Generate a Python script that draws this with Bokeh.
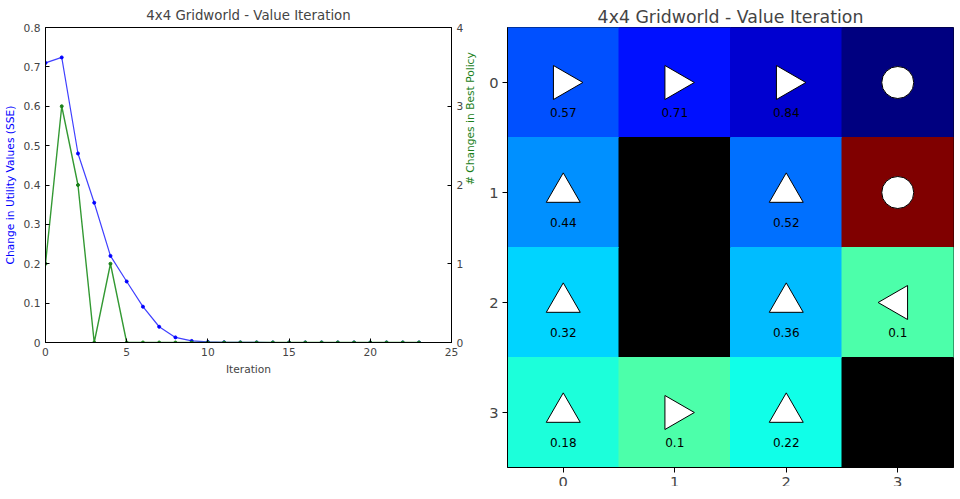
import math

from bokeh.core.properties import value
from bokeh.embed import file_html
from bokeh.layouts import row
from bokeh.models import ColumnDataSource, FixedTicker, LinearAxis, Range1d
from bokeh.plotting import figure
from bokeh.resources import INLINE

# convergence data
iterations = list(range(24))
sse = [0.71, 0.724, 0.48, 0.355, 0.22, 0.155, 0.091, 0.04, 0.013, 0.004, 0.0015,
       0.0005, 0.0002, 0.0001, 0, 0, 0, 0, 0, 0, 0, 0, 0, 0]
policy_changes = [1, 3, 2, 0, 1, 0, 0, 0, 0, 0, 0, 0, 0, 0, 0, 0, 0, 0, 0, 0, 0, 0, 0, 0]

# grid data (col, row)
cell_x = [0, 1, 2, 3, 0, 1, 2, 3, 0, 1, 2, 3, 0, 1, 2, 3]
cell_y = [0, 0, 0, 0, 1, 1, 1, 1, 2, 2, 2, 2, 3, 3, 3, 3]
cell_colors = ['#0050ff', '#0010ff', '#0000d0', '#000080',
               '#0090ff', '#000000', '#0070ff', '#800000',
               '#00d4ff', '#000000', '#00bcff', '#4cffaa',
               '#1cffda', '#4cffaa', '#10ffe8', '#000000']
actions = ['right', 'right', 'right', 'goal',
           'up', 'wall', 'up', 'goal',
           'up', 'wall', 'up', 'left',
           'up', 'right', 'up', 'wall']
utilities = ['0.57', '0.71', '0.84', '',
             '0.44', '', '0.52', '',
             '0.32', '', '0.36', '0.1',
             '0.18', '0.1', '0.22', '']

FONT = 'DejaVu Sans'

# left: convergence plot
p1 = figure(frame_width=406, frame_height=315,
            x_range=(0, 25), y_range=(0, 0.8), toolbar_location=None,
            output_backend='svg', min_border_left=29, min_border_top=12,
            min_border_right=10)
p1.title.text = '4x4 Gridworld - Value Iteration'
p1.title.align = 'center'
p1.title.text_font = FONT
p1.title.text_font_size = '10pt'
p1.title.text_font_style = 'normal'
p1.grid.grid_line_color = None
p1.outline_line_color = 'black'
p1.extra_y_ranges = {'policy': Range1d(0, 4)}
p1.line(iterations, sse, color='#4040ff', line_width=1.2)
p1.scatter(iterations, sse, color='#0000ff', size=3)
p1.line(iterations, policy_changes, color='#339933', line_width=1.4, y_range_name='policy')
p1.scatter(iterations, policy_changes, color='#1a801a', size=3, y_range_name='policy')
right_axis = LinearAxis(y_range_name='policy', axis_label='# Changes in Best Policy')
p1.add_layout(right_axis, 'right')
p1.xaxis.axis_label = 'Iteration'
p1.xaxis.ticker = FixedTicker(ticks=[0, 5, 10, 15, 20, 25])
p1.yaxis[0].ticker = FixedTicker(ticks=[i / 10 for i in range(9)])
p1.yaxis[0].axis_label = 'Change in Utility Values (SSE)'
p1.yaxis[0].axis_label_text_color = '#0000ff'
right_axis.ticker = FixedTicker(ticks=[0, 1, 2, 3, 4])
right_axis.axis_label_text_color = '#1a801a'
right_axis.axis_label_orientation = math.pi / 2
for ax in p1.axis:
    ax.major_tick_in = 4
    ax.major_tick_out = 0
    ax.minor_tick_line_color = None
    ax.major_label_text_font = FONT
    ax.major_label_text_font_size = '8pt'
    ax.axis_label_text_font = FONT
    ax.axis_label_text_font_size = '8pt'
    ax.axis_label_text_font_style = 'normal'
    ax.axis_label_standoff = 4

# right: grid world
src = ColumnDataSource(dict(x=cell_x, y=cell_y, color=cell_colors, label=utilities))
p2 = figure(frame_width=446, frame_height=440,
            x_range=(-0.5, 3.5), y_range=(3.5, -0.5), toolbar_location=None,
            output_backend='svg', min_border_left=12, min_border_right=4,
            min_border_top=8, min_border_bottom=0)
p2.title.text = '4x4 Gridworld - Value Iteration'
p2.title.align = 'center'
p2.title.text_font = FONT
p2.title.text_font_size = '13pt'
p2.title.text_font_style = 'normal'
p2.title.standoff = 2
p2.grid.grid_line_color = None
p2.outline_line_color = 'black'
p2.rect('x', 'y', 1, 1, color='color', source=src)

angle_of = {'right': -math.pi / 2, 'left': math.pi / 2, 'up': 0}
for act, ang in angle_of.items():
    xs = [x for x, a in zip(cell_x, actions) if a == act]
    ys = [y for y, a in zip(cell_y, actions) if a == act]
    p2.scatter(xs, ys, marker='triangle', size=34, angle=ang,
               fill_color='white', line_color='black', line_width=1)
gx = [x for x, a in zip(cell_x, actions) if a == 'goal']
gy = [y for y, a in zip(cell_y, actions) if a == 'goal']
p2.scatter(gx, gy, marker='circle', size=32, fill_color='white', line_color='black')

p2.text(x='x', y='y', text='label', source=src, y_offset=30,
        text_align='center', text_baseline='middle', text_font=value(FONT),
        text_font_size='9pt', text_color='black')
p2.xaxis.ticker = FixedTicker(ticks=[0, 1, 2, 3])
p2.yaxis.ticker = FixedTicker(ticks=[0, 1, 2, 3])
for ax in p2.axis:
    ax.major_tick_in = 0
    ax.major_tick_out = 5
    ax.minor_tick_line_color = None
    ax.major_label_text_font = FONT
    ax.major_label_text_font_size = '11pt'
    ax.major_label_standoff = 4

layout = row(p1, p2)
open('out.html', 'w').write(file_html(layout, INLINE))
